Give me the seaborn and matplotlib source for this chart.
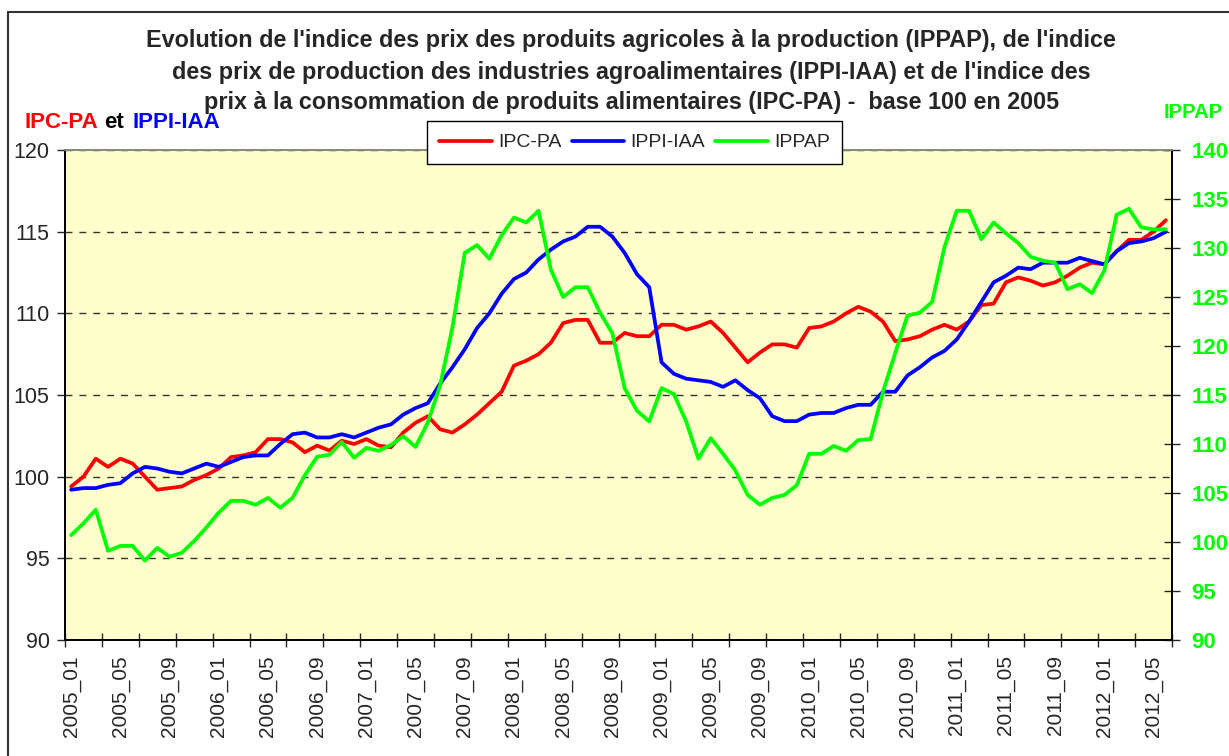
import numpy as np
import pandas as pd
import seaborn as sns
import matplotlib.pyplot as plt
from matplotlib.patches import Rectangle

# Données mensuelles 2005_01 -> 2012_06
annees = [2005, 2006, 2007, 2008, 2009, 2010, 2011, 2012]
mois = [f"{a}_{m:02d}" for a in annees for m in range(1, 13)][:90]

ipc_pa = [99.4, 100.0, 101.1, 100.6, 101.1, 100.8, 100.0, 99.2, 99.3, 99.4,
          99.8, 100.1, 100.5, 101.2, 101.3, 101.5, 102.3, 102.3, 102.1, 101.5,
          101.9, 101.6, 102.2, 102.0, 102.3, 101.9, 101.8, 102.7, 103.3, 103.7,
          102.9, 102.7, 103.2, 103.8, 104.5, 105.2, 106.8, 107.1, 107.5, 108.2,
          109.4, 109.6, 109.6, 108.2, 108.2, 108.8, 108.6, 108.6, 109.3, 109.3,
          109.0, 109.2, 109.5, 108.8, 107.9, 107.0, 107.6, 108.1, 108.1, 107.9,
          109.1, 109.2, 109.5, 110.0, 110.4, 110.1, 109.5, 108.3, 108.4, 108.6,
          109.0, 109.3, 109.0, 109.5, 110.5, 110.6, 111.9, 112.2, 112.0, 111.7,
          111.9, 112.3, 112.8, 113.1, 113.0, 113.8, 114.5, 114.5, 115.0, 115.7]

ippi_iaa = [99.2, 99.3, 99.3, 99.5, 99.6, 100.2, 100.6, 100.5, 100.3, 100.2,
            100.5, 100.8, 100.6, 100.9, 101.2, 101.3, 101.3, 102.0, 102.6, 102.7,
            102.4, 102.4, 102.6, 102.4, 102.7, 103.0, 103.2, 103.8, 104.2, 104.5,
            105.7, 106.7, 107.8, 109.1, 110.0, 111.2, 112.1, 112.5, 113.3, 113.9,
            114.4, 114.7, 115.3, 115.3, 114.7, 113.7, 112.4, 111.6, 107.0, 106.3,
            106.0, 105.9, 105.8, 105.5, 105.9, 105.3, 104.8, 103.7, 103.4, 103.4,
            103.8, 103.9, 103.9, 104.2, 104.4, 104.4, 105.2, 105.2, 106.2, 106.7,
            107.3, 107.7, 108.4, 109.5, 110.7, 111.9, 112.3, 112.8, 112.7, 113.1,
            113.1, 113.1, 113.4, 113.2, 113.0, 113.8, 114.3, 114.4, 114.6, 115.0]

ippap = [100.7, 101.9, 103.3, 99.1, 99.6, 99.6, 98.1, 99.4, 98.5, 98.9,
         100.1, 101.5, 103.0, 104.2, 104.2, 103.8, 104.5, 103.5, 104.5, 106.8,
         108.7, 108.9, 110.2, 108.6, 109.6, 109.3, 109.9, 110.8, 109.7, 112.2,
         116.0, 121.9, 129.5, 130.3, 128.9, 131.3, 133.1, 132.6, 133.8, 127.8,
         125.0, 126.0, 126.0, 123.4, 121.3, 115.7, 113.4, 112.3, 115.7, 115.1,
         112.3, 108.5, 110.6, 109.0, 107.3, 104.8, 103.8, 104.5, 104.8, 105.8,
         109.0, 109.0, 109.8, 109.3, 110.4, 110.5, 115.3, 119.3, 123.1, 123.4,
         124.5, 130.1, 133.8, 133.8, 130.9, 132.6, 131.5, 130.5, 129.1, 128.7,
         128.5, 125.8, 126.3, 125.4, 127.7, 133.4, 134.0, 132.1, 131.9, 131.9]

titre = ["Evolution de l'indice des prix des produits agricoles à la production (IPPAP), de l'indice",
         "des prix de production des industries agroalimentaires (IPPI-IAA) et de l'indice des",
         "prix à la consommation de produits alimentaires (IPC-PA) -  base 100 en 2005"]

df = pd.DataFrame({"x": np.arange(len(mois)), "mois": mois,
                   "IPC-PA": ipc_pa, "IPPI-IAA": ippi_iaa, "IPPAP": ippap})

sns.set_style("ticks")
plt.rcParams["font.family"] = ["Liberation Sans", "DejaVu Sans"]

fig = plt.figure(figsize=(12.29, 7.56), dpi=100)
ax = fig.add_axes([65 / 1229, 1 - 640 / 756, 1107 / 1229, 490 / 756])
ax.set_facecolor("#FFFFCC")

sns.lineplot(data=df, x="x", y="IPC-PA", ax=ax, color="#FF0000", lw=2.7, label="IPC-PA", legend=False)
sns.lineplot(data=df, x="x", y="IPPI-IAA", ax=ax, color="#0000FF", lw=2.7, label="IPPI-IAA", legend=False)
ax2 = ax.twinx()
sns.lineplot(data=df, x="x", y="IPPAP", ax=ax2, color="#00FF00", lw=2.7, label="IPPAP", legend=False)

# axes
ax.set_xlim(-0.5, len(mois) - 0.5)
ax.set_ylim(90, 120)
ax2.set_ylim(90, 140)
ax.set_yticks(range(90, 121, 5))
ax2.set_yticks(range(90, 141, 5))
ax.set_xlabel("")
ax.set_ylabel("")
ax2.set_ylabel("")

ax.set_xticks(np.arange(-0.5, len(mois), 3))
ax.set_xticklabels([])
ax.set_xticks(range(0, len(mois), 4), minor=True)
ax.set_xticklabels(mois[::4], minor=True, rotation=90, fontsize=15)
ax.tick_params(axis="x", which="major", direction="inout", length=10, width=1)
ax.tick_params(axis="x", which="minor", length=0, pad=11)
ax.tick_params(axis="y", direction="out", length=6, width=1, labelsize=15.5, pad=5)
ax2.tick_params(axis="y", direction="inout", length=12, width=1, labelsize=16, pad=8,
                labelcolor="#00FF00")
for lab in ax2.get_yticklabels():
    lab.set_fontweight("bold")

ax.yaxis.grid(True, linestyle=(0, (5, 5)), color="#333333", lw=1)
ax.set_axisbelow(True)

for a in (ax, ax2):
    for s in ("left", "bottom", "right"):
        a.spines[s].set_color("black")
        a.spines[s].set_linewidth(1.3)
    a.spines["top"].set_color("#888888")
    a.spines["top"].set_linewidth(1.3)

# légende
h1, l1 = ax.get_legend_handles_labels()
h2, l2 = ax2.get_legend_handles_labels()
leg = ax2.legend(h1 + h2, l1 + l2, loc="center", bbox_to_anchor=(0.5145, 1.015), ncol=3,
                 fontsize=14, frameon=True, fancybox=False, edgecolor="black",
                 framealpha=1, handlelength=2.7, columnspacing=0.55, handletextpad=0.3,
                 borderpad=0.65, borderaxespad=0)
leg.get_frame().set_linewidth(1)

# titres (une ligne par texte)
for ligne, yc in zip(titre, [40, 72, 103]):
    fig.text(0.5135, 1 - yc / 756, ligne, ha="center", va="center",
             fontsize=16.85, fontweight="bold")

yl = 1 - 122.5 / 756
fig.text(25 / 1229, yl, "IPC-PA", color="#FF0000", fontsize=16, fontweight="bold", va="center")
fig.text(104 / 1229, yl, "et", color="black", fontsize=16, fontweight="bold", va="center")
fig.text(133 / 1229, yl, "IPPI-IAA", color="#0000FF", fontsize=16, fontweight="bold", va="center")
fig.text(1164 / 1229, 1 - 112 / 756, "IPPAP", color="#00FF00", fontsize=14.5, fontweight="bold", va="center")

# cadre extérieur
fig.patches.append(Rectangle((8 / 1229, -0.05), 1.2, 1 - 12 / 756 + 0.05,
                             transform=fig.transFigure, fill=False, ec="#333333", lw=1.5))

plt.savefig("out.png", dpi=100)
